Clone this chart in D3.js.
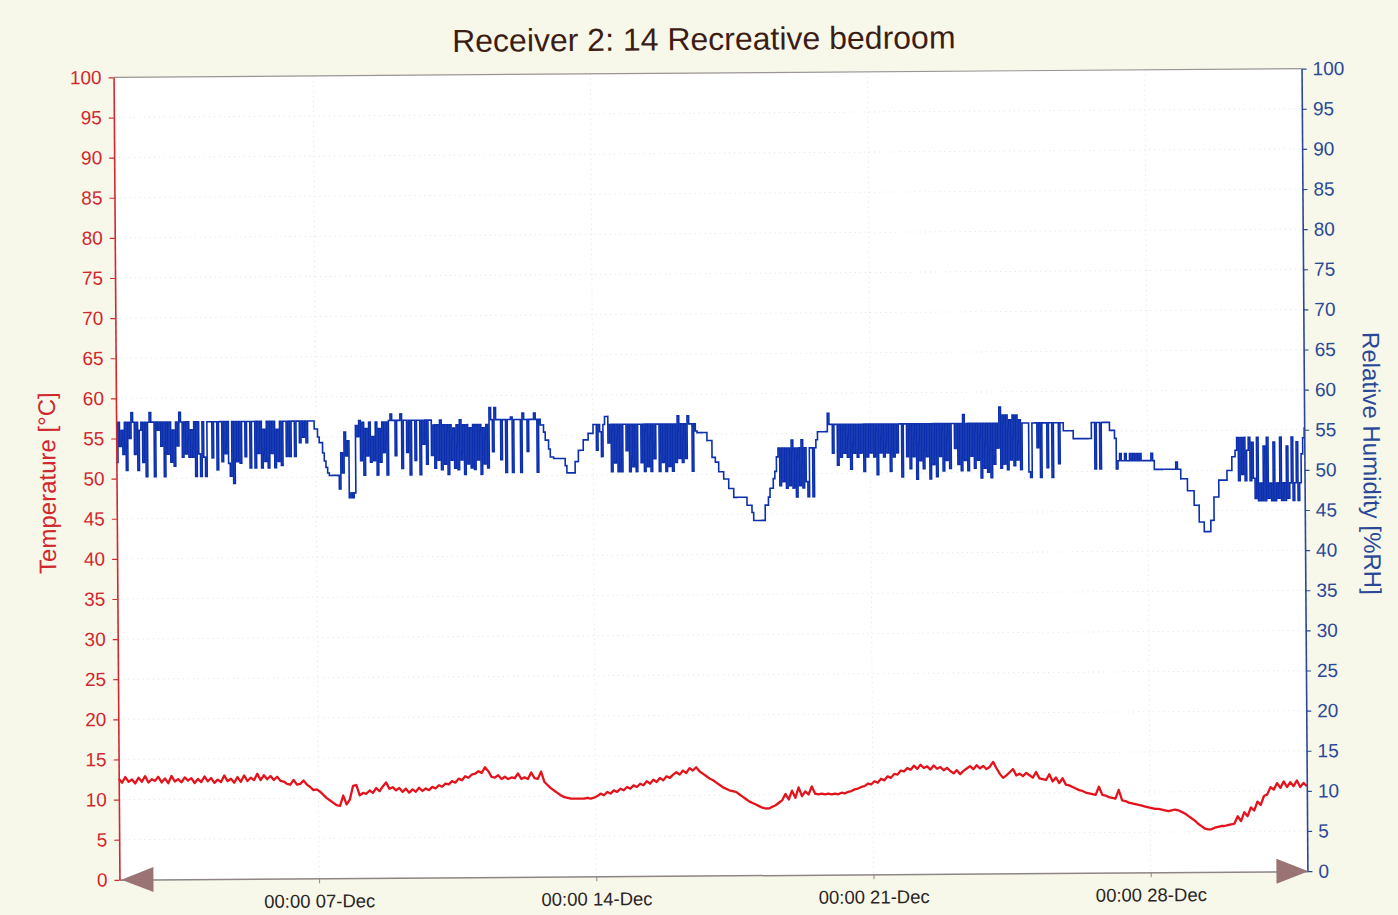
<!DOCTYPE html>
<html>
<head>
<meta charset="utf-8">
<title>Receiver 2: 14 Recreative bedroom</title>
<script src="https://cdn.jsdelivr.net/npm/d3@7"></script>
<style>
  html, body { margin: 0; padding: 0; background: #f8f8ea; }
  svg { display: block; }
  text { font-family: Arial, "Liberation Sans", sans-serif; }
</style>
</head>
<body>
<svg id="chart" width="1398" height="915"></svg>
<script>
// ---- Logger readings ----
const chartTitle = "Receiver 2: 14 Recreative bedroom";
const leftTitle = "Temperature [°C]";
const rightTitle = "Relative Humidity [%RH]";

// First reading and sampling intervals (hours)
const firstReading = new Date(2010, 11, 1, 23, 0);
const humidityStepHours = 1;
const temperatureStepHours = 2;

// Relative humidity [%RH], one reading per hour (one row per 24 h)
const humidity = [
  52, 57, 54, 56, 53, 57, 51, 57, 55, 58.2, 57, 53, 57, 51, 56, 57, 52, 57, 50.2, 57, 58.2, 57, 57, 50.2,
  57, 56, 57, 54, 57, 50.2, 57, 53, 57, 52, 56, 51.5, 57, 54, 58.2, 57, 52.6, 57, 53, 57, 52.6, 56, 52.6, 57,
  50.2, 57, 53, 50.2, 57, 52.6, 50.2, 57, 57, 57, 52.5, 57, 57, 51, 57, 57, 52, 57, 53, 57, 51.8, 50.2, 57, 49.3,
  57, 52, 57, 51.8, 57, 57, 52.6, 57, 57, 51.2, 57, 57, 51.2, 57, 53, 57, 51.2, 56, 52, 57, 51.2, 57, 53, 57,
  51.2, 56, 52, 57, 51.5, 57, 57, 52.6, 57, 52.6, 57, 57, 52.6, 57, 57, 54.3, 57, 55, 57, 54.3, 57, 57, 57, 57,
  56, 56, 55, 54.3, 54.3, 53, 52, 51.2, 50.5, 50.2, 50.2, 50.2, 50.2, 50.2, 50.2, 48.5, 53, 50.5, 55.6, 52.6, 54.5, 47.4, 48, 47.4,
  48, 56.4, 55, 57, 52, 56.8, 50.2, 56, 52.6, 56.8, 51.8, 55, 52, 56.8, 50.2, 56, 51.8, 56.8, 53, 56.8, 50.2, 57, 57.8, 57,
  57, 52.6, 57, 57, 57.8, 51, 57, 57, 53, 57, 50.2, 57, 57, 52, 57, 57, 50.2, 57, 54, 57, 51.5, 57, 57, 52.6,
  56.4, 51, 56.4, 52, 57, 50.8, 56.4, 51.5, 56.4, 50.2, 56.4, 52, 56, 51, 56.4, 50.8, 57, 52, 56.4, 50.2, 56.4, 51.5, 56, 51,
  56.4, 50.8, 56.4, 52, 56.4, 50.2, 56, 51.5, 56.4, 51, 58.5, 57, 53, 58.5, 57, 57, 57, 52, 57, 57, 50.4, 57, 57, 57.3,
  50.4, 57, 57, 57, 57, 50.4, 57.8, 57, 57, 53, 57, 57, 57, 57.8, 57, 50.4, 57, 56.3, 56.3, 55.4, 54.4, 54.4, 53.3, 52.3,
  52.3, 52.1, 52.1, 52.1, 52.1, 52.1, 52.1, 52.1, 51.2, 50.3, 50.3, 50.3, 50.3, 50.3, 51.7, 51.7, 53.1, 53.1, 53.1, 54.4, 54.4, 54.4, 55.2, 55.2,
  55.2, 56.3, 56.3, 53.1, 56.3, 55.4, 52.3, 56.3, 57.3, 57.3, 54, 56.3, 50.4, 56.3, 51.5, 56.3, 50.4, 56.3, 50.4, 56.3, 56.3, 53, 56.3, 50.4,
  56.3, 51, 56.3, 50.4, 56.3, 56.3, 51.5, 56.3, 50.4, 56.3, 51, 56.3, 50.4, 56.3, 52, 56.3, 56.3, 50.4, 56.3, 51.5, 56.3, 50.4, 56.3, 51,
  56.3, 50.4, 56.3, 51.5, 57.3, 52, 56.3, 51.5, 56.3, 52, 57.3, 56.3, 56.3, 50.4, 56.3, 55.4, 55.2, 55.2, 55.2, 55.2, 55.2, 55.2, 54.2, 54.2,
  54.2, 52.1, 52.1, 51.5, 51.5, 50.3, 50.3, 50.3, 49.4, 49.4, 49.4, 48.2, 48.2, 48.2, 47.1, 47.1, 47.1, 47.1, 47.1, 47.1, 47.1, 47.1, 46.1, 46.1,
  46.1, 45.2, 44.2, 44.2, 44.2, 44.2, 44.2, 44.2, 44.2, 46.1, 46.1, 47.1, 48.2, 48.2, 49.4, 50.3, 52.1, 53.2, 48.5, 53.2, 49, 53.2, 48.2, 53.2,
  48.5, 54.2, 48.2, 53.2, 47.1, 53.2, 48.5, 54.2, 48.2, 53.2, 49, 47.1, 53.2, 53.2, 47.1, 53.2, 54.2, 55.2, 55.2, 55.2, 55.2, 55.2, 55.2, 57.5,
  56.1, 56.1, 52.5, 56.1, 56.1, 51, 56.1, 52, 56.1, 52.5, 56.1, 52, 56.1, 50.5, 56.1, 52.5, 56.1, 52, 56.1, 52.5, 56.1, 50.2, 56.1, 52,
  56.1, 52.5, 56.1, 52, 56.1, 49.8, 56.1, 52.5, 56.1, 52, 56.1, 52.5, 56.1, 50.2, 56.1, 52, 56.1, 52.5, 56.1, 56.1, 49.5, 56.1, 56.1, 52,
  56.1, 50.5, 56.1, 52, 56.1, 49.2, 56.1, 51.5, 56.1, 50.5, 56.1, 52, 56.1, 49.2, 56.1, 51, 56.1, 49.5, 56.1, 52, 56.1, 50.2, 56.1, 51.5,
  56.1, 50.5, 56.1, 56.1, 53, 56.1, 51, 56.1, 50.2, 57.2, 51.5, 56.1, 50.2, 56.1, 52, 56.1, 50.5, 56.1, 51.5, 56.1, 49.3, 56.1, 50.5, 56.1,
  50, 56.1, 49.3, 56.1, 51, 56.1, 53, 58.1, 50.5, 57.1, 51, 57.1, 50.3, 56.5, 51.5, 57.1, 50.8, 57.1, 51.5, 56.5, 50.3, 56.1, 56.1, 56.1,
  56.1, 50, 49.3, 56.1, 56.1, 56.1, 53, 56.1, 49.3, 56.1, 56.1, 56.1, 50.5, 56.1, 56.1, 49.3, 56.1, 56.1, 56.1, 51, 56.1, 56.1, 55.1, 55.1,
  55.1, 55.1, 55.1, 55.1, 54.1, 54.1, 54.1, 54.1, 54.1, 54.1, 54.1, 54.1, 54.1, 54.1, 54.1, 56.1, 56.1, 50.3, 56.1, 56.1, 50.3, 56.1, 56.1, 56.1,
  56.1, 56.1, 55.1, 55.1, 55.1, 54.1, 50.3, 51.3, 52.2, 51.3, 51.3, 52.2, 51.3, 51.3, 52.2, 51.3, 52.2, 51.3, 52.2, 51.3, 52.2, 51.3, 51.3, 51.3,
  51.3, 51.3, 51.3, 52.2, 51.3, 50.2, 50.2, 50.2, 50.2, 50.2, 50.2, 50.2, 50.2, 50.2, 50.2, 50.2, 50.2, 50.2, 51.1, 50.2, 50.2, 49, 49, 49,
  49, 47.5, 47.5, 47.5, 47.5, 45.7, 45.7, 45.7, 43.6, 43.6, 43.6, 42.4, 42.4, 42.4, 42.4, 43.8, 43.8, 46.7, 46.7, 46.7, 48.8, 48.8, 48.8, 48.8,
  48.8, 50, 50, 50, 51.7, 51.7, 52.5, 54.1, 48.7, 54.1, 49.5, 54.1, 48.7, 52.5, 54.1, 48.7, 53.5, 49, 46.5, 54.1, 46.2, 48.4, 46.2, 53,
  46.2, 54.1, 46.5, 48.4, 46.2, 53.5, 46.2, 48.4, 46.5, 54.1, 46.2, 48.4, 46.2, 53, 46.5, 48.4, 54.1, 46.2, 48.4, 53.5, 46.2, 48.4, 52, 54,
  55.3
];

// Temperature [°C], one reading every 2 hours (one row per 24 h)
const temperature = [
  12.6, 12.1, 12.8, 12.2, 12.5, 12.0, 12.7, 12.2, 12.9, 12.1, 12.5, 12.3,
  12.8, 12.1, 12.6, 12.0, 12.9, 12.2, 12.5, 12.1, 12.7, 12.3, 12.6, 12.0,
  12.5, 12.1, 12.8, 12.2, 12.6, 12.0, 12.4, 12.1, 12.9, 12.2, 12.5, 12.0,
  12.7, 12.1, 12.9, 12.2, 12.6, 12.3, 13.1, 12.3, 12.9, 12.4, 12.8, 12.3,
  12.7, 12.2, 12.1, 11.8, 11.7, 12.3, 11.7, 11.8, 12.2, 11.7, 11.4, 11.0,
  11.1, 10.8, 10.4, 10.0, 9.7, 9.4, 9.1, 9.0, 10.3, 9.2, 9.8, 11.5,
  11.6, 10.3, 10.6, 10.5, 10.9, 10.6, 11.2, 10.8, 11.4, 11.9, 11.1, 11.3,
  10.9, 11.2, 10.7, 11.1, 10.6, 11.0, 10.7, 11.2, 10.8, 11.1, 10.9, 11.3,
  11.1, 11.5, 11.3, 11.7, 11.6, 12.0, 11.8, 12.3, 12.1, 12.6, 12.4, 12.8,
  12.9, 13.2, 13.0, 13.7, 13.2, 12.5, 12.4, 12.7, 12.2, 12.5, 12.2, 12.4,
  12.3, 12.9, 12.2, 12.4, 12.2, 13.0, 12.3, 12.2, 13.1, 11.8, 11.4, 11.0,
  10.7, 10.4, 10.1, 9.9, 9.8, 9.7, 9.7, 9.7, 9.7, 9.7, 9.8, 9.7,
  9.8, 10.0, 10.3, 10.1, 10.5, 10.3, 10.7, 10.5, 10.9, 10.7, 11.1, 10.9,
  11.3, 11.1, 11.5, 11.3, 11.8, 11.5, 12.0, 11.7, 12.2, 11.9, 12.4, 12.2,
  12.6, 12.9, 12.6, 13.1, 12.8, 13.4, 13.1, 13.5, 13.0, 12.7, 12.4, 12.1,
  11.9, 11.6, 11.3, 11.0, 10.8, 10.6, 10.5, 10.4, 10.1, 9.8, 9.5, 9.2,
  9.0, 8.8, 8.6, 8.4, 8.3, 8.3, 8.5, 8.7, 9.0, 9.3, 10.1, 9.4,
  10.5, 9.6, 10.9, 9.8, 10.4, 10.0, 11.0, 10.1, 10.0, 10.1, 10.0, 10.1,
  10.0, 10.1, 10.0, 10.2, 10.1, 10.3, 10.4, 10.6, 10.7, 10.9, 11.0, 11.3,
  11.2, 11.6, 11.4, 11.9, 11.7, 12.2, 12.0, 12.5, 12.4, 12.9, 12.8, 13.2,
  13.0, 13.5, 13.1, 13.6, 13.2, 13.4, 13.0, 13.5, 13.1, 13.3, 12.9, 13.2,
  12.8, 12.5, 12.9, 12.4, 12.8, 13.1, 13.4, 13.0, 13.5, 13.1, 13.4, 13.0,
  13.3, 13.9, 13.1, 12.4, 11.9, 12.2, 12.6, 13.0, 12.2, 12.4, 12.1, 12.5,
  12.2, 11.9, 12.6, 11.8, 11.7, 11.6, 12.3, 11.4, 11.9, 11.2, 11.8, 11.0,
  10.9, 10.7, 10.5, 10.3, 10.2, 10.0, 9.9, 9.8, 9.7, 10.7, 9.7, 9.6,
  9.4, 9.3, 9.2, 10.3, 9.0, 8.9, 8.7, 8.6, 8.5, 8.4, 8.3, 8.2,
  8.1, 8.0, 7.9, 7.9, 7.8, 7.7, 7.6, 7.7, 7.8, 7.7, 7.5, 7.3,
  7.0, 6.7, 6.4, 6.0, 5.7, 5.4, 5.3, 5.3, 5.5, 5.6, 5.7, 5.7,
  5.8, 5.9, 6.0, 6.9, 6.3, 7.4, 6.9, 8.0, 7.6, 8.7, 8.3, 9.4,
  9.6, 10.5, 10.2, 11.0, 10.4, 11.2, 10.5, 11.1, 10.6, 11.3, 10.5, 11.0,
  10.6
];

// Axis ticks
const dateTicks = [new Date(2010, 11, 7), new Date(2010, 11, 14), new Date(2010, 11, 21), new Date(2010, 11, 28)];
const valueTicks = [0, 5, 10, 15, 20, 25, 30, 35, 40, 45, 50, 55, 60, 65, 70, 75, 80, 85, 90, 95, 100];
const valueDomain = [0, 100];

// ---- Layout ----
const W = 1398, H = 915;
const plot = { left: 116.5, right: 1304.5, top: 73, bottom: 875.5 };
const tilt = -0.42; // the printed sheet sits slightly rotated

const colors = {
  temp: "#e3121b",
  tempAxis: "#d0282e",
  hum: "#0b2fae",
  humAxis: "#2a4897",
  title: "#3c1d14",
  frame: "#8e8585",
  arrow: "#9a7474",
  grid: "#e2e2e2",
  tickText: "#2a2424"
};

const hourMs = 3600 * 1000;
const humRows = humidity.map((v, i) => ({ t: new Date(+firstReading + i * humidityStepHours * hourMs), v }));
const tempRows = temperature.map((v, i) => ({ t: new Date(+firstReading + i * temperatureStepHours * hourMs), v }));
const lastTime = humRows[humRows.length - 1].t;

const x = d3.scaleTime().domain([firstReading, lastTime]).range([plot.left, plot.right]);
const yT = d3.scaleLinear().domain(valueDomain).range([plot.bottom, plot.top]);
const yH = d3.scaleLinear().domain(valueDomain).range([plot.bottom, plot.top]);

const svg = d3.select("#chart");
svg.append("rect").attr("width", W).attr("height", H).attr("fill", "#f8f8ea");

const cx = (plot.left + plot.right) / 2, cy = (plot.top + plot.bottom) / 2;
const g = svg.append("g").attr("transform", `rotate(${tilt} ${cx} ${cy})`);

// Plot background
g.append("rect")
  .attr("x", plot.left).attr("y", plot.top)
  .attr("width", plot.right - plot.left).attr("height", plot.bottom - plot.top)
  .attr("fill", "#ffffff");

// Faint dotted grid
g.append("g").selectAll("line.h").data(valueTicks.slice(1, -1)).join("line")
  .attr("x1", plot.left).attr("x2", plot.right)
  .attr("y1", d => yT(d)).attr("y2", d => yT(d))
  .attr("stroke", colors.grid).attr("stroke-width", 1).attr("stroke-dasharray", "1,4");
g.append("g").selectAll("line.v").data(dateTicks).join("line")
  .attr("x1", d => x(d)).attr("x2", d => x(d))
  .attr("y1", plot.top).attr("y2", plot.bottom)
  .attr("stroke", colors.grid).attr("stroke-width", 1).attr("stroke-dasharray", "1,4");

// Top frame line
g.append("line")
  .attr("x1", plot.left).attr("x2", plot.right)
  .attr("y1", plot.top).attr("y2", plot.top)
  .attr("stroke", "#9a9494").attr("stroke-width", 1.2);

// Series
const humLine = d3.line().x(d => x(d.t)).y(d => yH(d.v)).curve(d3.curveStepAfter);
const tempLine = d3.line().x(d => x(d.t)).y(d => yT(d.v));

g.append("path").datum(humRows)
  .attr("d", humLine)
  .attr("fill", "none").attr("stroke", colors.hum).attr("stroke-width", 1.6)
  .attr("stroke-linejoin", "miter");

g.append("path").datum(tempRows)
  .attr("d", tempLine)
  .attr("fill", "none").attr("stroke", colors.temp).attr("stroke-width", 2.3)
  .attr("stroke-linejoin", "round");

// Bottom time axis
const xAxis = d3.axisBottom(x)
  .tickValues(dateTicks)
  .tickFormat(d3.timeFormat("%H:%M %d-%b"))
  .tickSize(5).tickSizeOuter(0).tickPadding(11);
const xg = g.append("g").attr("transform", `translate(0,${plot.bottom})`).call(xAxis);
xg.select(".domain").attr("stroke", colors.frame).attr("stroke-width", 1.5);
xg.selectAll(".tick line").attr("stroke", colors.frame);
xg.selectAll(".tick text").attr("fill", colors.tickText).style("font-size", "18.5px");

// Left temperature axis
const yLeft = d3.axisLeft(yT).tickValues(valueTicks).tickSize(5).tickSizeOuter(0).tickPadding(7);
const lg = g.append("g").attr("transform", `translate(${plot.left},0)`).call(yLeft);
lg.select(".domain").attr("stroke", colors.tempAxis).attr("stroke-width", 1.6);
lg.selectAll(".tick line").attr("stroke", colors.tempAxis).attr("stroke-width", 1.2);
lg.selectAll(".tick text").attr("fill", colors.tempAxis).style("font-size", "19px");

// Right humidity axis
const yRight = d3.axisRight(yH).tickValues(valueTicks).tickSize(5).tickSizeOuter(0).tickPadding(6);
const rg = g.append("g").attr("transform", `translate(${plot.right},0)`).call(yRight);
rg.select(".domain").attr("stroke", colors.humAxis).attr("stroke-width", 1.6);
rg.selectAll(".tick line").attr("stroke", colors.humAxis).attr("stroke-width", 1.2);
rg.selectAll(".tick text").attr("fill", colors.humAxis).style("font-size", "19px");

// End arrows on the time axis
const arrowLen = 32, arrowHalf = 12.5;
g.append("path")
  .attr("d", `M${plot.left + 2},${plot.bottom} L${plot.left + 2 + arrowLen},${plot.bottom - arrowHalf} L${plot.left + 2 + arrowLen},${plot.bottom + arrowHalf} Z`)
  .attr("fill", colors.arrow);
g.append("path")
  .attr("d", `M${plot.right + 1},${plot.bottom} L${plot.right + 1 - arrowLen},${plot.bottom - arrowHalf} L${plot.right + 1 - arrowLen},${plot.bottom + arrowHalf} Z`)
  .attr("fill", colors.arrow);

// Axis titles
g.append("text")
  .attr("transform", `translate(47,${(plot.top + plot.bottom) / 2 + 4}) rotate(-90)`)
  .attr("text-anchor", "middle").attr("dominant-baseline", "central")
  .attr("fill", colors.tempAxis).style("font-size", "24px")
  .text(leftTitle);
g.append("text")
  .attr("transform", `translate(1372,${(plot.top + plot.bottom) / 2 - 6}) rotate(90)`)
  .attr("text-anchor", "middle").attr("dominant-baseline", "central")
  .attr("fill", colors.humAxis).style("font-size", "24px")
  .text(rightTitle);

// Chart title
g.append("text")
  .attr("x", 707).attr("y", 50)
  .attr("text-anchor", "middle")
  .attr("fill", colors.title).style("font-size", "32px")
  .text(chartTitle);
</script>
</body>
</html>
